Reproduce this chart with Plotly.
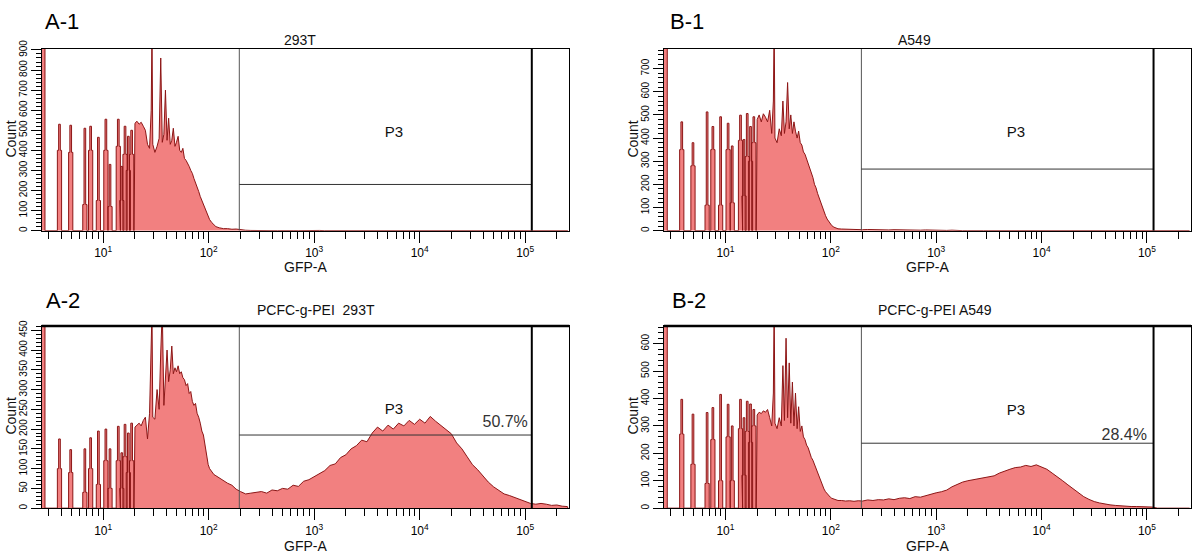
import plotly.graph_objects as go

# ---------------- data ----------------
panel_labels = ["A-1", "B-1", "A-2", "B-2"]
titles = ["293T", "A549", "PCFC-g-PEI  293T", "PCFC-g-PEI A549"]
gate_pct = ["", "", "50.7%", "28.4%"]
y_max = [905, 785, 461, 665]
y_dtick = [100, 100, 50, 100]

gate_low = 195          # P3 gate left edge (GFP-A)
gate_high = 115500      # P3 gate right edge (GFP-A)
gate_level = [230, 266, 185, 237]
p3_gfp = 5700
p3_level = [483, 419, 247, 352]
pct_gfp = [0, 0, 106000, 100000]
pct_level = [0, 0, 215, 262]

# comb region (discrete low channels), GFP-A value of each spike
spike_gfp = [2.68, 3.85, 4.92, 6.7, 7.6, 9.0, 10.6, 11.6, 13.9, 15.0, 16.1, 17.3, 18.6]
a1_spike_top = [3000, 530, 525, 510, 520, 465, 555, 330, 555, 320, 520, 470, 500]
a1_spike_ped = [3000, 400, 390, 130, 400, 150, 400, 120, 420, 150, 380, 300, 380]
b1_spike_top = [3000, 470, 380, 513, 450, 492, 464, 366, 499, 394, 506, 450, 492]
b1_spike_ped = [3000, 350, 280, 110, 350, 110, 350, 120, 390, 150, 320, 300, 380]
a2_spike_top = [3000, 175, 148, 150, 178, 195, 200, 150, 207, 140, 212, 190, 215]
a2_spike_ped = [3000, 100, 90, 40, 100, 60, 120, 50, 120, 50, 130, 90, 120]
b2_spike_top = [3000, 397, 343, 349, 367, 415, 379, 300, 397, 330, 390, 380, 360]
b2_spike_ped = [3000, 270, 160, 90, 250, 100, 260, 100, 290, 120, 280, 240, 300]

# continuous part, low range
gfp_low = [20.0, 20.9, 21.9, 22.9, 24.0, 25.1, 26.3, 27.5, 28.5, 29.0,
           29.5, 30.9, 32.4, 33.9, 35.1, 36.3, 37.6, 38.9, 40.3, 41.7,
           43.2, 44.7, 46.2, 47.9, 49.5, 51.3, 53.1, 55.0, 56.9, 58.9,
           61.0, 63.1, 65.3, 67.6, 70.0, 72.4, 75.0, 77.6, 80.4, 83.2,
           86.1, 89.1, 92.3, 95.5, 98.9, 102, 107, 112, 117, 126,
           138, 151, 166, 182, 200, 224, 251, 282]
a1_low = [535, 545, 530, 540, 520, 500, 430, 410, 600, 1000,
          430, 390, 420, 460, 860, 440, 480, 700, 450, 560,
          430, 450, 510, 420, 440, 470, 400, 390, 410, 360,
          350, 330, 320, 300, 285, 260, 240, 215, 195, 170,
          150, 130, 110, 85, 70, 55, 40, 30, 20, 14,
          10, 10, 7, 8, 4, 2, 1, 0]
b1_low = [480, 500, 470, 505, 490, 470, 520, 420, 560, 900,
          400, 380, 440, 410, 560, 420, 470, 640, 440, 500,
          420, 470, 430, 400, 430, 380, 370, 340, 330, 310,
          290, 270, 250, 230, 200, 185, 160, 140, 120, 100,
          80, 65, 50, 40, 30, 22, 15, 11, 8, 7,
          6, 6, 5, 5, 4, 5, 4, 4]
a2_low = [205, 210, 215, 208, 222, 230, 175, 240, 380, 500,
          230, 225, 300, 250, 395, 500, 260, 330, 400, 320,
          350, 410, 340, 355, 345, 360, 340, 345, 330, 325,
          310, 315, 290, 295, 270, 260, 265, 240, 230, 215,
          195, 185, 160, 135, 110, 100, 92, 85, 82, 76,
          70, 63, 58, 48, 42, 36, 38, 40]
b2_low = [340, 350, 345, 355, 350, 360, 330, 300, 420, 750,
          310, 290, 330, 300, 520, 320, 620, 330, 530, 310,
          460, 300, 420, 290, 370, 280, 300, 260, 250, 230,
          220, 200, 185, 175, 160, 140, 125, 110, 95, 82,
          70, 60, 52, 45, 40, 36, 33, 30, 28, 28,
          26, 27, 25, 27, 26, 30, 28, 31]

# continuous part, high range
gfp_high = [316, 355, 398, 447, 501, 562, 631, 708, 794, 891,
            1000, 1122, 1259, 1413, 1585, 1778, 1995, 2239, 2512, 2818,
            3162, 3548, 3981, 4467, 5012, 5623, 6310, 7079, 7943, 8913,
            10000, 11220, 12590, 14130, 15850, 17780, 19950, 22390, 25120, 28180,
            31620, 35480, 39810, 44670, 50120, 56230, 63100, 70790, 79430, 89130,
            100000, 112200, 125900, 141300, 158500, 177800, 199500, 223900, 251200]
a1_high = [0, 1, 0, 0, 1, 0, 0, 0, 1, 0,
           2, 1, 0, 0, 0, 0, 0, 0, 0, 0,
           0, 0, 0, 0, 0, 0, 0, 0, 0, 0,
           0, 0, 0, 0, 0, 0, 0, 0, 0, 0,
           0, 0, 0, 0, 0, 0, 0, 0, 0, 0,
           0, 0, 0, 0, 0, 0, 0, 0, 0]
b1_high = [4, 3, 4, 3, 3, 2, 3, 2, 3, 2,
           2, 2, 1, 2, 0, 0, 0, 1, 0, 0,
           0, 0, 0, 0, 0, 0, 0, 0, 0, 0,
           0, 0, 0, 0, 0, 0, 0, 0, 0, 0,
           0, 0, 0, 0, 0, 0, 0, 0, 0, 0,
           0, 0, 0, 0, 0, 0, 0, 0, 0]
a2_high = [42, 38, 46, 44, 50, 48, 58, 55, 68, 72,
           80, 88, 95, 108, 112, 128, 135, 150, 158, 172,
           168, 190, 205, 195, 210, 200, 215, 208, 222, 212,
           225, 215, 232, 220, 210, 200, 188, 165, 150, 130,
           110, 97, 82, 66, 54, 45, 36, 32, 27, 22,
           18, 12, 10, 12, 10, 7, 8, 5, 4]
b2_high = [30, 34, 31, 36, 38, 35, 42, 40, 46, 50,
           56, 60, 66, 78, 88, 95, 100, 104, 108, 112,
           115, 118, 128, 136, 142, 148, 150, 156, 152, 158,
           150, 142, 128, 115, 100, 85, 70, 55, 42, 32,
           24, 19, 15, 12, 10, 8, 7, 6, 6, 5,
           5, 4, 0, 0, 0, 0, 0, 0, 0]

x_decades = [10, 100, 1000, 10000, 100000]
x_decade_text = ["10<sup>1</sup>", "10<sup>2</sup>", "10<sup>3</sup>", "10<sup>4</sup>", "10<sup>5</sup>"]
x_minor = [3, 4, 5, 6, 7, 8, 9,
           20, 30, 40, 50, 60, 70, 80, 90,
           200, 300, 400, 500, 600, 700, 800, 900,
           2000, 3000, 4000, 5000, 6000, 7000, 8000, 9000,
           20000, 30000, 40000, 50000, 60000, 70000, 80000, 90000,
           200000]

spikes_top = [a1_spike_top, b1_spike_top, a2_spike_top, b2_spike_top]
spikes_ped = [a1_spike_ped, b1_spike_ped, a2_spike_ped, b2_spike_ped]
lows = [a1_low, b1_low, a2_low, b2_low]
highs = [a1_high, b1_high, a2_high, b2_high]

# ---------------- layout geometry ----------------
W, H = 1200, 556
x_dom = [[41.7 / W, 569.3 / W], [664 / W, 1191 / W]]
y_dom = [[1 - 225.7 / H, 1 - 40.7 / H], [1 - 508.3 / H, 1 - 322.7 / H]]
X_RANGE_LOG = [0.417, 5.418]

FILL = "rgb(242,128,128)"
EDGE = "rgb(140,22,22)"
FONT = "Arial, Liberation Sans, sans-serif"

fig = go.Figure()
layout = dict(width=W, height=H, margin=dict(l=0, r=0, t=0, b=0),
              paper_bgcolor="white", plot_bgcolor="white", showlegend=False)

WT = 10 ** 0.008
WP = 10 ** 0.02

annotations = []
shapes = []
for i in range(4):
    row, col = i // 2, i % 2
    xa = "x" if i == 0 else f"x{i+1}"
    ya = "y" if i == 0 else f"y{i+1}"
    xkey = "xaxis" if i == 0 else f"xaxis{i+1}"
    ykey = "yaxis" if i == 0 else f"yaxis{i+1}"

    xs, ys = [], []
    for v, t, p in zip(spike_gfp, spikes_top[i], spikes_ped[i]):
        xs += [v / WP, v / WP, v / WT, v / WT, v * WT, v * WT, v * WP, v * WP]
        ys += [0, p, p, t, t, p, p, 0]
    xs += [gfp_low[0] / 1.02]
    ys += [0]
    xs += gfp_low + gfp_high
    ys += lows[i] + highs[i]
    xs += [gfp_high[-1] * 1.01]
    ys += [0]

    fig.add_trace(go.Scatter(x=xs, y=ys, mode="lines", fill="tozeroy",
                             fillcolor=FILL, line=dict(color=EDGE, width=1),
                             xaxis=xa, yaxis=ya, hoverinfo="skip"))
    # gate lines
    fig.add_trace(go.Scatter(x=[gate_low, gate_low], y=[0, y_max[i]], mode="lines",
                             line=dict(color="#555555", width=1), xaxis=xa, yaxis=ya))
    fig.add_trace(go.Scatter(x=[gate_low, gate_high], y=[gate_level[i], gate_level[i]],
                             mode="lines", line=dict(color="#333333", width=1),
                             xaxis=xa, yaxis=ya))
    fig.add_trace(go.Scatter(x=[gate_high, gate_high], y=[0, y_max[i]], mode="lines",
                             line=dict(color="black", width=2), xaxis=xa, yaxis=ya))
    fig.add_trace(go.Scatter(x=[p3_gfp], y=[p3_level[i]], mode="text", text=["P3"],
                             textposition="middle center",
                             textfont=dict(family=FONT, size=15, color="#111"),
                             xaxis=xa, yaxis=ya))
    if gate_pct[i]:
        fig.add_trace(go.Scatter(x=[pct_gfp[i]], y=[pct_level[i]], mode="text",
                                 text=[gate_pct[i]], textposition="middle left",
                                 textfont=dict(family=FONT, size=16, color="#333"),
                                 xaxis=xa, yaxis=ya))

    layout[xkey] = dict(type="log", range=X_RANGE_LOG, domain=x_dom[col], anchor=ya,
                        tickmode="array", tickvals=x_decades, ticktext=x_decade_text,
                        ticks="outside", ticklen=11, tickwidth=1, tickcolor="black",
                        minor=dict(tickmode="array", tickvals=x_minor, ticks="outside",
                                   ticklen=7, tickwidth=1, tickcolor="black"),
                        showline=True, linecolor="black", linewidth=1, mirror=True,
                        showgrid=False, zeroline=False,
                        tickfont=dict(family=FONT, size=12, color="black"))
    layout[ykey] = dict(range=[0, y_max[i]], domain=y_dom[row], anchor=xa,
                        tick0=0, dtick=y_dtick[i], ticks="outside", ticklen=10,
                        tickwidth=1, tickcolor="black", tickangle=-90,
                        minor=dict(dtick=y_dtick[i] / 5, ticks="outside", ticklen=5,
                                   tickwidth=1, tickcolor="black"),
                        showline=True, linecolor="black", linewidth=1, mirror=True,
                        showgrid=False, zeroline=False,
                        tickfont=dict(family=FONT, size=10, color="black"))

    if row == 1:
        shapes.append(dict(type="line", xref=f"{xa} domain", yref=f"{ya} domain",
                           x0=0, x1=1, y0=1, y1=1, line=dict(color="black", width=2.5)))

# text placements (pixel positions of the original figure)
label_pos = [(62, 13), (687, 13), (63, 297), (689, 297)]
title_pos = [(300, 31.7), (914.5, 31.7), (316, 307), (935, 307)]
count_pos = [(11, 133), (633, 133), (11, 415), (633, 415)]
gfp_pos = [(305, 263), (927, 263), (305, 547), (927, 547)]


def ann(text, pos, size, color="#111", angle=0):
    return dict(text=text, x=pos[0] / W, y=1 - pos[1] / H, xref="paper", yref="paper",
                xanchor="center", yanchor="middle", showarrow=False, textangle=angle,
                font=dict(family=FONT, size=size, color=color))


for i in range(4):
    annotations.append(ann(panel_labels[i], label_pos[i], 22, "black"))
    annotations.append(ann(titles[i].replace("  ", "&nbsp; "), title_pos[i], 14))
    annotations.append(ann("Count", count_pos[i], 14, angle=-90))
    annotations.append(ann("GFP-A", gfp_pos[i], 14))

layout["annotations"] = annotations
layout["shapes"] = shapes
fig.update_layout(**layout)
fig.write_html("out.html", config={"displayModeBar": False},
               post_script="document.body.style.margin='0px';")
